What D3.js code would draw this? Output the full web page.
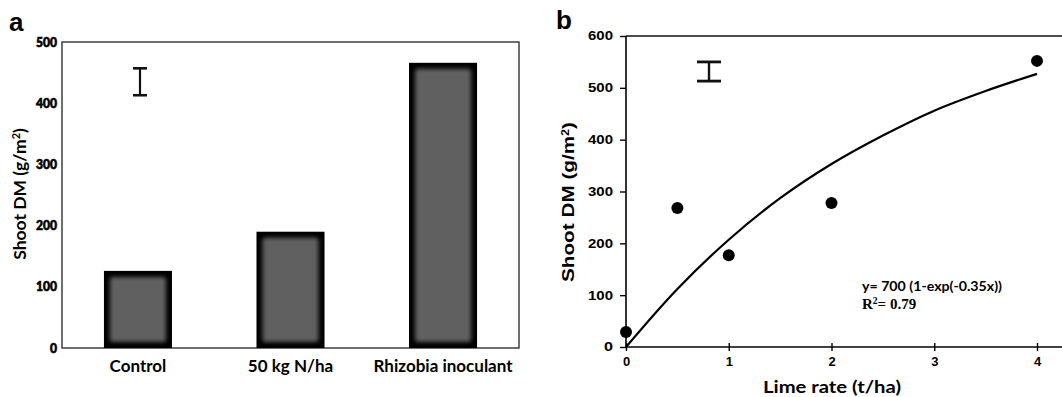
<!DOCTYPE html>
<html>
<head>
<meta charset="utf-8">
<script src="https://cdn.jsdelivr.net/npm/d3@7"></script>
<style>
  body { margin: 0; background: #fff; }
  svg { display: block; }
  .cal { font-family: Lato, "Open Sans", sans-serif; font-weight: 700; }
  .ari { font-family: "Liberation Sans", Arial, sans-serif; font-weight: 700; }
</style>
</head>
<body>
<svg id="chart" width="1062" height="397"></svg>
<script>
// panel a data
const categories = ['Control', '50 kg N/ha', 'Rhizobia inoculant'];
const shootDM = [126, 190, 466];
const yTicksA = [0, 100, 200, 300, 400, 500];
const errA = [413, 457];

// panel b data
const limeRate = [0, 0.5, 1, 2, 4];
const shootDMLime = [29, 268, 177, 278, 552];
// fitted curve
const fitX = [0, 0.5, 1, 1.5, 2, 2.5, 3, 3.5, 4];
const fitY = [0, 112, 207, 287, 353, 408, 456, 494, 527];
const xTicksB = [0, 1, 2, 3, 4];
const yTicksB = [0, 100, 200, 300, 400, 500, 600];
const errB = [513, 550];

const svg = d3.select('#chart');

// blur for the bar fill
const defs = svg.append('defs');
defs.append('filter').attr('id', 'soft')
  .attr('x', '-20%').attr('y', '-20%').attr('width', '140%').attr('height', '140%')
  .append('feGaussianBlur').attr('stdDeviation', 2.2);

// ---------- panel a ----------
const a = { left: 62, right: 519, top: 42, bottom: 348 };
const xA = d3.scaleBand().domain(categories).range([a.left, a.right]).paddingInner(0.554).paddingOuter(0.275);
const yA = d3.scaleLinear().domain([0, 500]).range([a.bottom, a.top]);

const gA = svg.append('g');
gA.append('rect')
  .attr('x', a.left).attr('y', a.top)
  .attr('width', a.right - a.left).attr('height', a.bottom - a.top)
  .attr('fill', 'none').attr('stroke', '#222').attr('stroke-width', 1.3);

const bars = gA.selectAll('.bar').data(categories).enter().append('g').attr('class', 'bar');
bars.append('rect')
  .attr('x', d => xA(d)).attr('y', (d, i) => yA(shootDM[i]))
  .attr('width', xA.bandwidth()).attr('height', (d, i) => yA(0) - yA(shootDM[i]))
  .attr('fill', '#000');
bars.append('rect')
  .attr('x', d => xA(d) + 6).attr('y', (d, i) => yA(shootDM[i]) + 6)
  .attr('width', xA.bandwidth() - 12).attr('height', (d, i) => yA(0) - yA(shootDM[i]) - 12)
  .attr('rx', 3)
  .attr('fill', '#616161').attr('filter', 'url(#soft)');

gA.append('g')
  .attr('transform', `translate(${a.left},0)`)
  .call(d3.axisLeft(yA).tickValues(yTicksA).tickSize(0).tickPadding(5))
  .call(g => g.select('.domain').remove())
  .selectAll('text')
  .attr('class', 'cal')
  .attr('textLength', d => d === 0 ? 7 : 21).attr('lengthAdjust', 'spacingAndGlyphs')
  .style('font-size', '12.5px').style('font-weight', 900)
  .attr('stroke', '#000').attr('stroke-width', 0.6)
  .attr('fill', '#000');

gA.append('g')
  .attr('transform', `translate(0,${a.bottom})`)
  .call(d3.axisBottom(xA).tickSize(0).tickPadding(12))
  .call(g => g.select('.domain').remove())
  .selectAll('text')
  .attr('class', 'cal')
  .style('font-size', '17px')
  .attr('fill', '#000');

// error bar a
const exA = 140;
gA.append('line').attr('x1', exA).attr('x2', exA).attr('y1', yA(errA[0])).attr('y2', yA(errA[1]))
  .attr('stroke', '#111').attr('stroke-width', 2.2);
gA.selectAll('.capA').data(errA).enter().append('line')
  .attr('x1', exA - 7).attr('x2', exA + 7).attr('y1', d => yA(d)).attr('y2', d => yA(d))
  .attr('stroke', '#111').attr('stroke-width', 2.6);

gA.append('text')
  .attr('class', 'cal')
  .attr('transform', `translate(26,194) rotate(-90)`)
  .attr('text-anchor', 'middle')
  .style('font-size', '17.5px')
  .html('Shoot DM (g/m<tspan baseline-shift="super" font-size="11px">2</tspan>)');

svg.append('text').attr('x', 9).attr('y', 31)
  .attr('class', 'ari').style('font-size', '26px').text('a');

// ---------- panel b ----------
const b = { left: 626, right: 1062, top: 36, bottom: 347 };
const xB = d3.scaleLinear().domain([0, 4]).range([b.left, 1037]);
const yB = d3.scaleLinear().domain([0, 600]).range([b.bottom, b.top]);

const gB = svg.append('g');
gB.append('line').attr('x1', b.left).attr('x2', b.right).attr('y1', b.top).attr('y2', b.top)
  .attr('stroke', '#111').attr('stroke-width', 1.6);

gB.append('g')
  .attr('transform', `translate(${b.left},0)`)
  .call(d3.axisLeft(yB).tickValues(yTicksB).tickSize(6).tickPadding(7))
  .call(g => g.select('.domain').attr('stroke-width', 1.6).attr('d', `M0,${b.top}V${b.bottom}`))
  .call(g => g.selectAll('line').attr('stroke-width', 1.4))
  .selectAll('text')
  .attr('class', 'ari').style('font-size', '12px')
  .attr('textLength', d => d === 0 ? 9 : 25).attr('lengthAdjust', 'spacingAndGlyphs')
  .attr('fill', '#000');

const xAxisB = gB.append('g')
  .attr('transform', `translate(0,${b.bottom})`)
  .call(d3.axisBottom(xB).tickValues(xTicksB).tickSize(4).tickPadding(6).tickFormat(d3.format('d')))
  .call(g => g.select('.domain').attr('stroke-width', 1.6).attr('d', `M${b.left},0H${b.right}`));
xAxisB.selectAll('.tick line').attr('y1', -4).attr('y2', 4).attr('stroke-width', 1.4);
xAxisB.selectAll('text').attr('class', 'ari').style('font-size', '13px').attr('fill', '#000');

const line = d3.line()
  .x((d, i) => xB(fitX[i]))
  .y(d => yB(d))
  .curve(d3.curveCatmullRom);
gB.append('path').datum(fitY)
  .attr('d', line).attr('fill', 'none').attr('stroke', '#000').attr('stroke-width', 2.2);

gB.selectAll('.pt').data(shootDMLime).enter().append('circle')
  .attr('cx', (d, i) => xB(limeRate[i])).attr('cy', d => yB(d))
  .attr('r', 6).attr('fill', '#000');

// error bar b
const exB = 709;
gB.append('line').attr('x1', exB).attr('x2', exB).attr('y1', yB(errB[0])).attr('y2', yB(errB[1]))
  .attr('stroke', '#111').attr('stroke-width', 2.4);
gB.selectAll('.capB').data(errB).enter().append('line')
  .attr('x1', exB - 12).attr('x2', exB + 12).attr('y1', d => yB(d)).attr('y2', d => yB(d))
  .attr('stroke', '#111').attr('stroke-width', 2.8);

gB.append('text').attr('x', 862).attr('y', 291)
  .attr('class', 'cal').style('font-size', '13.5px')
  .attr('textLength', 140).attr('lengthAdjust', 'spacingAndGlyphs')
  .text('y= 700 (1-exp(-0.35x))');
gB.append('text').attr('x', 862).attr('y', 309)
  .style('font-family', '"Liberation Serif", "DejaVu Serif", serif').style('font-weight', 700)
  .style('font-size', '15px')
  .html('R<tspan font-size="9.5px" dy="-5">2</tspan><tspan dy="5">= 0.79</tspan>');

gB.append('text')
  .attr('class', 'ari')
  .attr('transform', `translate(574,202) rotate(-90)`)
  .attr('text-anchor', 'middle')
  .attr('textLength', 160).attr('lengthAdjust', 'spacingAndGlyphs')
  .style('font-size', '16.5px')
  .html('Shoot DM (g/m<tspan baseline-shift="super" font-size="10px">2</tspan>)');

gB.append('text').attr('class', 'cal')
  .attr('x', 832).attr('y', 393).attr('text-anchor', 'middle')
  .attr('textLength', 138).attr('lengthAdjust', 'spacingAndGlyphs')
  .style('font-size', '17.5px').text('Lime rate (t/ha)');

svg.append('text').attr('x', 556).attr('y', 29)
  .attr('class', 'ari').style('font-size', '26px').text('b');
</script>
</body>
</html>
